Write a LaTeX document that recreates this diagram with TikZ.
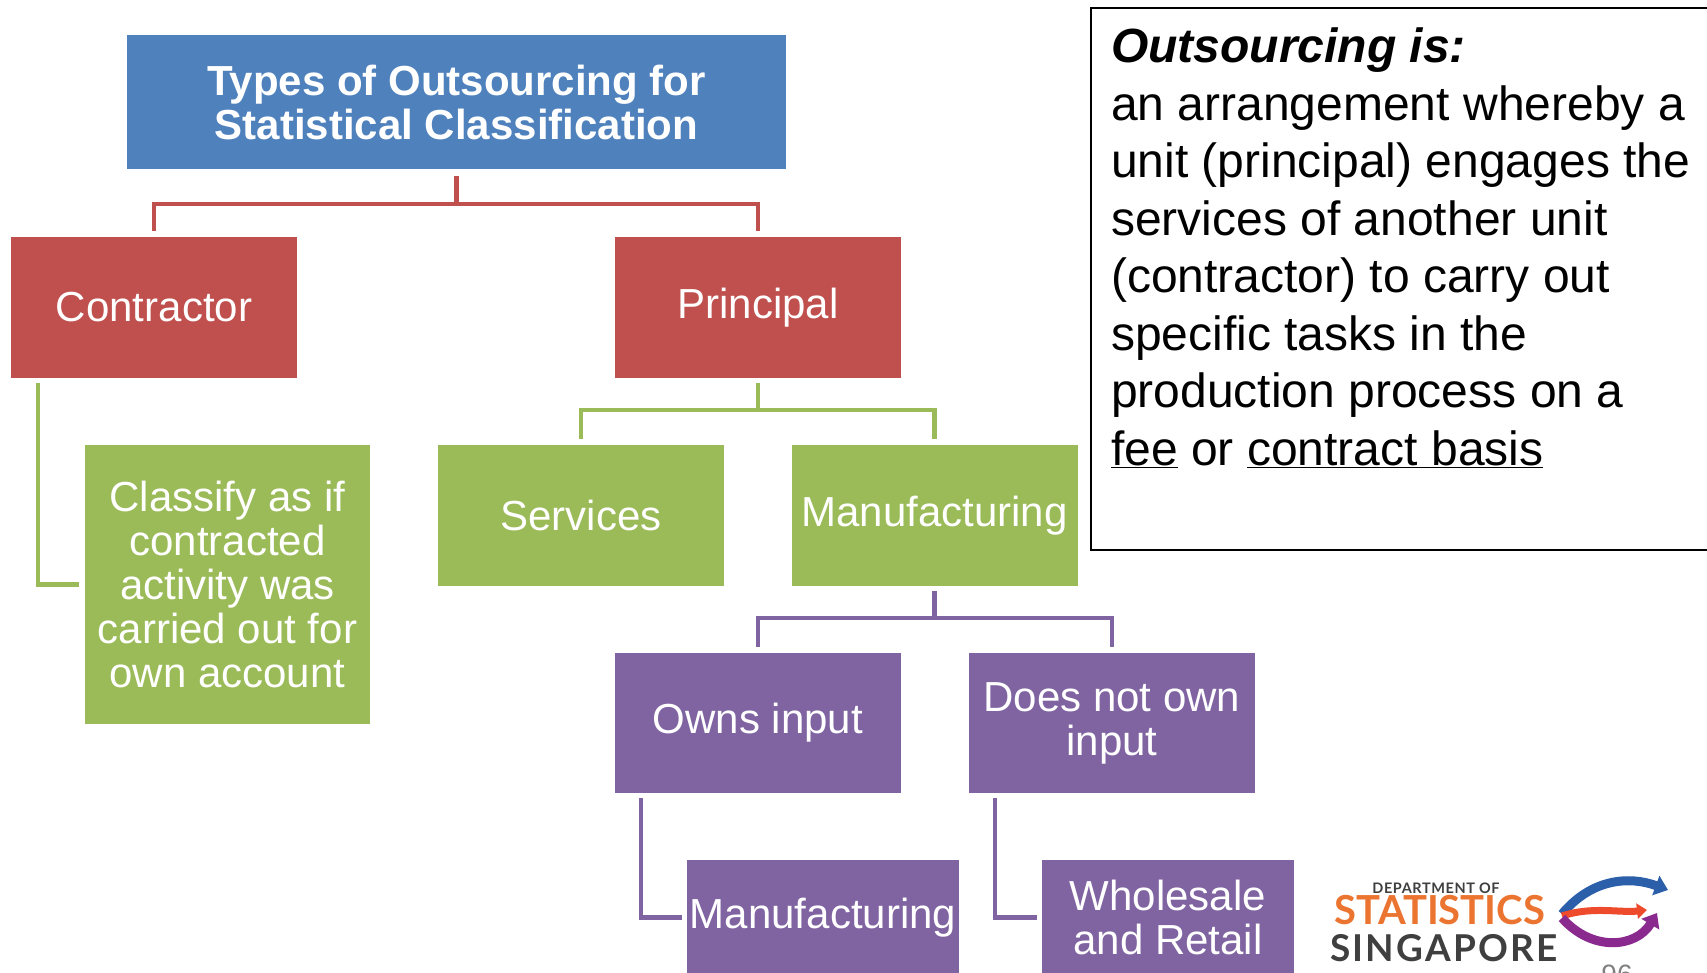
\documentclass[tikz,border=0pt]{standalone}
\usepackage{fontspec}
\setmainfont{Liberation Sans}
\newfontfamily\logofont{Lato}
\usepackage{xcolor}
\usepackage{tikz}
\usetikzlibrary{calc, positioning, arrows.meta}
\definecolor{sablue}{HTML}{4F81BD}
\definecolor{sared}{HTML}{C0504D}
\definecolor{sagreen}{HTML}{9BBB59}
\definecolor{sapurple}{HTML}{8064A2}
\definecolor{logoorange}{HTML}{EB7430}
\definecolor{logogrey}{HTML}{3F3F3F}
\definecolor{swirlblue}{HTML}{2B5FAA}
\definecolor{swirlred}{HTML}{EE4A2C}
\definecolor{swirlpurple}{HTML}{8A2A8E}
\tikzset{
    boxnode/.style = {rectangle, inner sep = 0em, text=white, align=center,
      minimum width=286pt, minimum height=141pt, font=\fontsize{42}{44}\selectfont},
    titlenode/.style = {boxnode, fill=sablue, minimum width=659pt, minimum height=134pt,
      font=\fontsize{42}{44}\selectfont\bfseries},
    rednode/.style = {boxnode, fill=sared},
    greennode/.style = {boxnode, fill=sagreen},
    purplenode/.style = {boxnode, fill=sapurple},
    link/.style = {line width=4.5pt},
    textnode/.style = {draw=none, fill=none, rectangle, inner sep = 0em, align=left}
}
\newcommand{\ul}[1]{\underline{#1}}

\begin{document}
\begin{tikzpicture}[x=1pt, y=1pt]
    \useasboundingbox (0,0) rectangle (1707,-973);
    \clip (0,0) rectangle (1707,-973);

    % hierarchy
    \node [name=title, titlenode] at (456.5,-102) {Types of Outsourcing for\\Statistical Classification};

    \node [name=contractor, rednode] at (154,-307.5) {Contractor};
    \node [name=principal, rednode] at (758,-307.5) {Principal};

    \node [name=classify, greennode, minimum width=285pt, minimum height=279pt] at (227.5,-584.5)
        {Classify as if\\contracted\\activity was\\carried out for\\own account};
    \node [name=services, greennode] at (581,-515.5) {Services};
    \node [name=manuf, greennode] at (934.5,-515.5) {Manufacturing};

    \node [name=owns, purplenode, minimum height=140pt] at (758,-723) {Owns input};
    \node [name=notown, purplenode, minimum height=140pt] at (1112,-723) {Does not own\\input};

    \node [name=manufb, purplenode, minimum width=272pt, minimum height=115pt] at (823,-917.5) {Manufacturing};
    \node [name=wholesale, purplenode, minimum width=252pt, minimum height=115pt] at (1168,-917.5)
        {Wholesale\\and Retail};

    % connectors
    \draw [link, sared] ([yshift=-7pt]title.south) -- ++(0,-28) -| ([yshift=6pt]contractor.north);
    \draw [link, sared] ([yshift=-7pt]title.south) -- ++(0,-28) -| ([yshift=6pt]principal.north);
    \draw [link, sagreen] ([yshift=-5pt]principal.south) -- ++(0,-27) -| ([yshift=6pt]services.north);
    \draw [link, sagreen] ([yshift=-5pt]principal.south) -- ++(0,-27) -| ([yshift=6pt]manuf.north);
    \draw [link, sagreen] ([xshift=27pt, yshift=-5pt]contractor.south west) |- ([xshift=-6pt]classify.west);
    \draw [link, sapurple] ([yshift=-5pt]manuf.south) -- ++(0,-27) -| ([yshift=6pt]owns.north);
    \draw [link, sapurple] ([yshift=-5pt]manuf.south) -- ++(0,-27) -| ([yshift=6pt]notown.north);
    \draw [link, sapurple] ([xshift=26pt, yshift=-5pt]owns.south west) |- ([xshift=-5pt]manufb.west);
    \draw [link, sapurple] ([xshift=26pt, yshift=-5pt]notown.south west) |- ([xshift=-5pt]wholesale.west);

    % definition
    \draw [line width=1.6pt] (1091,-8) rectangle (1730,-550);
    \node [name=defn, textnode, anchor=north west, font=\fontsize{48}{57.5}\selectfont] at (1111,-28)
        {\textbf{\textit{Outsourcing is:}}\\
         an arrangement whereby a\\
         unit (principal) engages the\\
         services of another unit\\
         (contractor) to carry out\\
         specific tasks in the\\
         production process on a\\
         \ul{fee} or \ul{contract basis}};

    % logo
    \node [name=dept, textnode, text=logogrey, font=\logofont\bfseries\fontsize{14.5}{14.5}\selectfont\addfontfeature{LetterSpace=4}]
        at (1436,-888) {DEPARTMENT OF};
    \node [name=stats, textnode, text=logoorange, font=\logofont\bfseries\fontsize{40}{40}\selectfont]
        at (1440,-910) {STATISTICS};
    \node [name=sing, textnode, text=logogrey, font=\logofont\bfseries\fontsize{37}{37}\selectfont\addfontfeature{LetterSpace=6}]
        at (1444,-948) {SINGAPORE};
    \coordinate (swirl) at (1562,-914);
    \draw [line width=9pt, color=swirlblue, -{Triangle[length=13pt, width=20pt]}]
        (swirl) .. controls (1592,-878) and (1630,-876) .. (1668,-890);
    \draw [line width=7pt, color=swirlred, -{Triangle[length=10pt, width=15pt]}]
        ([yshift=-2pt]swirl) .. controls (1592,-906) and (1620,-913) .. (1647,-910);
    \draw [line width=9pt, color=swirlpurple, -{Triangle[length=13pt, width=20pt]}]
        ([yshift=-4pt]swirl) .. controls (1592,-952) and (1636,-948) .. (1657,-913);
    \node [name=page, textnode, text=gray, anchor=north, font=\fontsize{28}{28}\selectfont]
        at (1617,-965) {96};
\end{tikzpicture}
\end{document}
